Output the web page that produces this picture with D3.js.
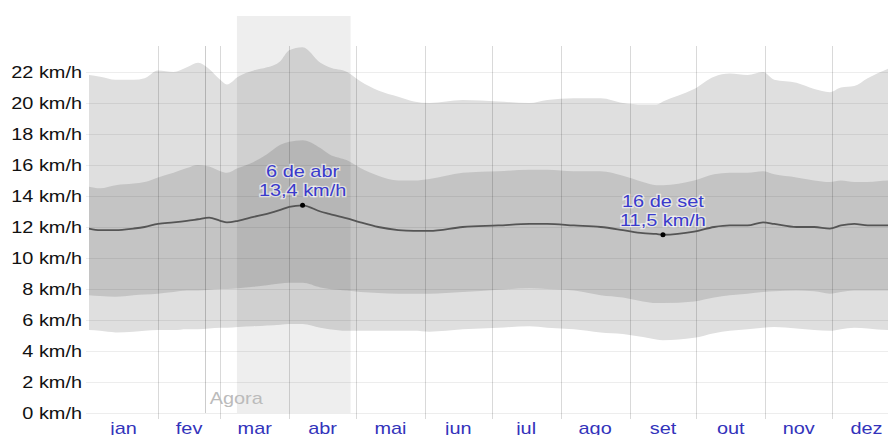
<!DOCTYPE html>
<html>
<head>
<meta charset="utf-8">
<script src="https://cdn.jsdelivr.net/npm/d3@7"></script>
<style>
  body { margin: 0; background: #fff; }
  svg { display: block; font-family: "Liberation Sans", Arial, sans-serif; }
</style>
</head>
<body>
<div id="chart"></div>
<script>
// day of year for each sample
let days = [0,5,12,20,25, 31,38,44,49,54, 59,62,67,74,80, 86,90,96,104,108,
            116,122,130,139,146, 153,168,184,198,206, 218,230,240,249,255,
            258,272,281,288,296, 303,308,318,326,333, 338,344,350,359,365]

// 90th percentile
let p90 = [21.8,21.7,21.5,21.5,21.6, 22.1,22.0,22.3,22.6,22.2, 21.5,21.2,21.7,22.1,22.3,
           22.7,23.4,23.6,22.6,22.3, 22.0,21.4,20.8,20.4,20.1, 20.0,20.2,20.1,20.0,20.2,
           20.3,20.3,20.0,19.9,19.9, 20.1,20.9,21.7,21.9,21.8, 22.0,21.5,21.3,20.9,20.7,
           21.0,21.1,21.6,22.2,22.5]
// 75th percentile
let p75 = [14.6,14.5,14.7,14.8,14.9, 15.2,15.5,15.8,16.0,15.9, 15.6,15.5,15.8,16.2,16.7,
           17.3,17.5,17.6,17.1,16.7, 16.3,15.8,15.3,15.0,15.0, 15.1,15.5,15.6,15.7,15.7,
           15.6,15.6,15.3,14.9,14.7, 14.7,15.0,15.4,15.5,15.5, 15.6,15.4,15.2,15.0,14.9,
           15.0,14.9,14.9,15.0,15.0]
// mean
let mean = [11.9,11.8,11.8,11.9,12.0, 12.2,12.3,12.4,12.5,12.6, 12.4,12.3,12.4,12.65,12.85,
            13.1,13.3,13.4,13.0,12.85, 12.55,12.3,12.0,11.8,11.75, 11.75,12.0,12.1,12.2,12.2,
            12.1,12.0,11.8,11.6,11.55, 11.5,11.7,12.0,12.1,12.1, 12.3,12.2,12.0,12.0,11.9,
            12.1,12.2,12.1,12.1,12.1]
// 25th percentile
let p25 = [7.6,7.55,7.5,7.6,7.65, 7.7,7.8,7.9,7.9,7.95, 8.0,8.0,8.05,8.15,8.25,
           8.35,8.4,8.4,8.1,8.0, 7.9,7.8,7.75,7.7,7.7, 7.7,7.8,7.95,8.05,8.0,
           7.9,7.6,7.45,7.2,7.1, 7.1,7.2,7.45,7.6,7.7, 7.8,7.85,7.9,7.85,7.7,
           7.8,7.9,7.9,7.9,7.9]
// 10th percentile
let p10 = [5.35,5.3,5.2,5.25,5.3, 5.35,5.35,5.4,5.4,5.45, 5.5,5.5,5.55,5.6,5.65,
           5.7,5.75,5.75,5.5,5.4, 5.3,5.3,5.3,5.3,5.3, 5.25,5.4,5.5,5.6,5.5,
           5.4,5.2,5.1,4.9,4.75, 4.7,4.85,5.15,5.3,5.4, 5.5,5.55,5.45,5.35,5.3,
           5.4,5.5,5.45,5.35,5.35]

let months = ['jan','fev','mar','abr','mai','jun','jul','ago','set','out','nov','dez']
let monthStart = [0,31,59,90,120,151,181,212,243,273,304,334,365]
let yTicks = [0,2,4,6,8,10,12,14,16,18,20,22]

let todayDay = 52
let highlight = [66.5, 117.6]

let notes = [{day: 96, value: 13.4, label: '6 de abr'},
             {day: 258, value: 11.5, label: '16 de set'}]

const w = 888
const h = 435
const stretch = 'scale(1.17,1)'

const x = d3.scaleLinear().domain([0, 365]).range([89, 901])
const y = d3.scaleLinear().domain([0, 22]).range([413, 72])

const rows = days.map((d, i) => ({day: d, p90: p90[i], p75: p75[i], mean: mean[i], p25: p25[i], p10: p10[i]}))

const svg = d3.select('#chart')
  .append('svg')
    .attr('width', w)
    .attr('height', h)

// bands
const band = (lo, hi) => d3.area()
  .x(d => x(d.day))
  .y0(d => y(d[lo]))
  .y1(d => y(d[hi]))
  .curve(d3.curveMonotoneX)

svg.append('path').datum(rows).attr('d', band('p10', 'p90')).attr('fill', '#dfdfdf')
svg.append('path').datum(rows).attr('d', band('p25', 'p75')).attr('fill', '#c4c4c4')

// highlighted period
svg.append('rect')
  .attr('x', x(highlight[0]))
  .attr('y', 16)
  .attr('width', x(highlight[1]) - x(highlight[0]))
  .attr('height', y(0) - 16)
  .attr('fill', '#000')
  .attr('opacity', 0.065)

// horizontal grid
svg.append('g')
  .selectAll('line')
  .data(yTicks)
  .enter()
  .append('line')
    .attr('x1', 86)
    .attr('x2', w)
    .attr('y1', d => y(d) + 0.5)
    .attr('y2', d => y(d) + 0.5)
    .attr('stroke', '#000')
    .attr('stroke-opacity', 0.07)

// month lines
svg.append('g')
  .selectAll('line')
  .data(monthStart.slice(1, 12))
  .enter()
  .append('line')
    .attr('x1', d => Math.round(x(d)) + 0.5)
    .attr('x2', d => Math.round(x(d)) + 0.5)
    .attr('y1', 46)
    .attr('y2', 419)
    .attr('stroke', '#000')
    .attr('stroke-opacity', 0.15)

// today line + label
svg.append('line')
  .attr('x1', Math.round(x(todayDay)) + 0.5)
  .attr('x2', Math.round(x(todayDay)) + 0.5)
  .attr('y1', 46)
  .attr('y2', y(0))
  .attr('stroke', '#000')
  .attr('stroke-opacity', 0.2)

svg.append('g')
  .attr('transform', 'translate(' + (x(todayDay) + 5) + ',404)')
  .append('text')
    .attr('transform', stretch)
    .attr('font-size', 17)
    .attr('fill', '#bbb')
    .text('Agora')

// mean line
svg.append('path')
  .datum(rows)
  .attr('d', d3.line().x(d => x(d.day)).y(d => y(d.mean)).curve(d3.curveMonotoneX))
  .attr('fill', 'none')
  .attr('stroke', '#555')
  .attr('stroke-width', 1.8)

// y labels
svg.append('g')
  .selectAll('g')
  .data(yTicks)
  .enter()
  .append('g')
    .attr('transform', d => 'translate(82,' + y(d) + ')')
  .append('text')
    .attr('transform', stretch)
    .attr('text-anchor', 'end')
    .attr('dy', '0.36em')
    .attr('font-size', 17)
    .attr('fill', '#111')
    .text(d => d + ' km/h')

// month labels
svg.append('g')
  .selectAll('g')
  .data(months)
  .enter()
  .append('g')
    .attr('transform', (d, i) => 'translate(' + x((monthStart[i] + monthStart[i + 1]) / 2) + ',434)')
  .append('text')
    .attr('transform', stretch)
    .attr('text-anchor', 'middle')
    .attr('font-size', 17)
    .attr('fill', '#3333bb')
    .text(d => d)

// annotations
const fmt = v => String(v.toFixed(1)).replace('.', ',') + ' km/h'
const note = svg.append('g')
  .selectAll('g')
  .data(notes)
  .enter()
  .append('g')
    .attr('transform', d => 'translate(' + x(d.day) + ',' + y(d.value) + ')')

note.append('circle')
  .attr('r', 2.5)
  .attr('fill', '#000')

note.append('text')
  .attr('transform', 'translate(0,-28) ' + stretch)
  .attr('text-anchor', 'middle')
  .attr('font-size', 17)
  .attr('fill', '#3a3acc')
  .attr('stroke', '#fff')
  .attr('stroke-width', 2.5)
  .attr('stroke-opacity', 0.6)
  .attr('paint-order', 'stroke')
  .text(d => d.label)

note.append('text')
  .attr('transform', 'translate(0,-9) ' + stretch)
  .attr('text-anchor', 'middle')
  .attr('font-size', 17)
  .attr('fill', '#3a3acc')
  .attr('stroke', '#fff')
  .attr('stroke-width', 2.5)
  .attr('stroke-opacity', 0.6)
  .attr('paint-order', 'stroke')
  .text(d => fmt(d.value))
</script>
</body>
</html>
